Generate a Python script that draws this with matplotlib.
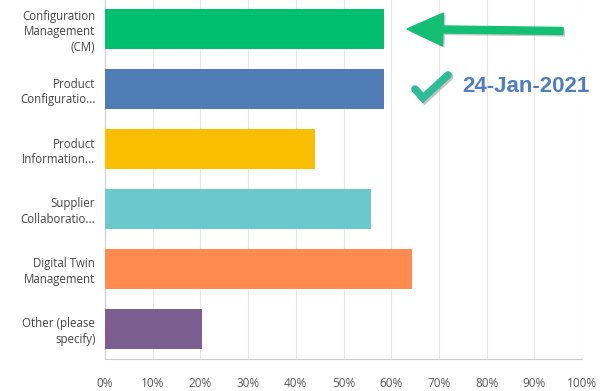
import matplotlib
matplotlib.use("Agg")
import matplotlib.pyplot as plt
import matplotlib.patheffects as pe
from matplotlib.patches import FancyArrow
from matplotlib.lines import Line2D

labels = ["Configuration\nManagement\n(CM)", "Product\nConfiguratio...", "Product\nInformation...",
          "Supplier\nCollaboratio...", "Digital Twin\nManagement", "Other (please\nspecify)"]
values = [58.5, 58.5, 44.0, 55.7, 64.4, 20.3]
colors = ["#00BF6F", "#507CB6", "#F9BE00", "#6BC8CD", "#FF8B4F", "#7D5E90"]
xticks = [0, 10, 20, 30, 40, 50, 60, 70, 80, 90, 100]
date_text = "24-Jan-2021"

plt.rcParams["font.family"] = ["Open Sans", "DejaVu Sans"]

fig = plt.figure(figsize=(6.13, 3.91), dpi=100)
ax = fig.add_axes([105 / 613, 32 / 391, 477 / 613, 360 / 391])

ypos = list(range(len(labels)))
ax.barh(ypos, values, height=0.667, color=colors, zorder=3)
ax.set_ylim(5.5, -0.5)
ax.set_xlim(0, 100)

ax.set_xticks(xticks)
ax.set_xticklabels([f"{t}%" for t in xticks], fontsize=8.5, color="#555555")
ax.set_yticks(ypos)
ax.set_yticklabels(labels, fontsize=8.3, color="#444444", linespacing=1.25)
ax.tick_params(axis="x", length=0, pad=13)
ax.tick_params(axis="y", length=0, pad=7)

ax.grid(axis="x", color="#e6e6e6", linewidth=0.8, zorder=0)
for s in ["top", "right"]:
    ax.spines[s].set_visible(False)
ax.spines["left"].set_color("#cccccc")
ax.spines["bottom"].set_color("#cccccc")

# green arrow annotation (figure pixel coords)
def fx(x):
    return x / 613

def fy(y):
    return 1 - y / 391

shadow = [pe.SimplePatchShadow(offset=(1.5, -1.5), shadow_rgbFace="#999999", alpha=0.5), pe.Normal()]
arr = FancyArrow(fx(563), fy(31), fx(407) - fx(563), fy(29) - fy(31), width=7 / 391,
                 head_width=33 / 391, head_length=36 / 613, length_includes_head=True,
                 transform=fig.transFigure, color="#13BF72", zorder=10)
arr.set_path_effects(shadow)
fig.add_artist(arr)

# check mark
chk = Line2D([fx(415), fx(423), fx(448)], [fy(89), fy(98), fy(75)], transform=fig.transFigure,
             color="#2DBE98", linewidth=5.5, solid_capstyle="round", solid_joinstyle="miter",
             path_effects=[pe.SimpleLineShadow(offset=(1.2, -1.2), shadow_color="#888888", alpha=0.5), pe.Normal()])
fig.add_artist(chk)

fig.text(fx(462), fy(87), date_text, fontsize=16, fontweight="bold", color="#4F7DBF",
         family=["Liberation Sans", "DejaVu Sans"], va="center", ha="left")

fig.savefig("out.png", dpi=100)
